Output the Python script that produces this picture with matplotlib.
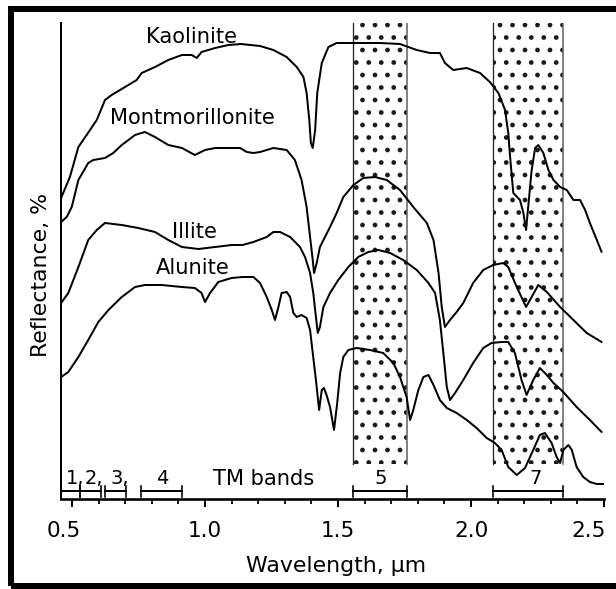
import matplotlib
matplotlib.use("Agg")
import matplotlib.pyplot as plt
import matplotlib.transforms as mtransforms
from matplotlib.patches import Rectangle
import numpy as np

DPI = 150
PX = 72.0 / DPI  # points per pixel

# ---------------- data (relative reflectance, arbitrary units) ----------------
kaol_wl = [0.459, 0.492, 0.524, 0.555, 0.593, 0.624, 0.649, 0.693, 0.743, 0.762, 0.812, 0.862,
           0.913, 0.950, 0.969, 0.987, 1.038, 1.088, 1.135, 1.207, 1.257, 1.307, 1.345, 1.370,
           1.382, 1.392, 1.398, 1.405, 1.414, 1.422, 1.439, 1.464, 1.495, 1.570, 1.658, 1.733,
           1.796, 1.846, 1.883, 1.902, 1.933, 1.984, 2.034, 2.071, 2.103, 2.128, 2.140, 2.149,
           2.159, 2.184, 2.197, 2.207, 2.215, 2.228, 2.241, 2.253, 2.272, 2.291, 2.310, 2.335,
           2.360, 2.385, 2.410, 2.429, 2.447, 2.473, 2.491]
kaol_r = [301, 322, 352, 364, 379, 399, 404, 411, 419, 426, 432, 439,
          444, 444, 441, 447, 451, 454, 455, 453, 449, 442, 432, 422,
          406, 379, 356, 351, 369, 406, 436, 452, 456, 456, 456, 455,
          449, 446, 446, 436, 429, 431, 426, 417, 406, 389, 366, 336,
          306, 299, 286, 269, 292, 329, 351, 354, 346, 329, 319, 312,
          309, 299, 299, 289, 276, 259, 247]

mont_wl = [0.459, 0.480, 0.499, 0.524, 0.561, 0.580, 0.624, 0.655, 0.687, 0.737, 0.774, 0.812,
           0.862, 0.913, 0.962, 1.000, 1.038, 1.088, 1.132, 1.157, 1.182, 1.207, 1.257, 1.307,
           1.338, 1.363, 1.382, 1.395, 1.405, 1.410, 1.420, 1.432, 1.451, 1.470, 1.495, 1.520,
           1.558, 1.595, 1.639, 1.683, 1.733, 1.783, 1.815, 1.834, 1.859, 1.878, 1.890, 1.902,
           1.921, 1.946, 1.971, 2.008, 2.046, 2.083, 2.121, 2.140, 2.172, 2.207, 2.228, 2.253,
           2.285, 2.335, 2.385, 2.435, 2.491]
mont_r = [277, 282, 292, 319, 336, 339, 341, 346, 354, 364, 367, 362,
          354, 351, 344, 349, 351, 351, 351, 347, 346, 347, 351, 349,
          339, 319, 292, 262, 239, 226, 236, 252, 262, 272, 286, 302,
          314, 321, 322, 319, 309, 292, 282, 276, 259, 226, 192, 172,
          179, 187, 196, 216, 229, 234, 236, 232, 212, 192, 202, 214,
          207, 192, 179, 166, 157]

illi_wl = [0.459, 0.486, 0.524, 0.561, 0.593, 0.624, 0.687, 0.749, 0.812, 0.862, 0.913, 0.975,
           1.038, 1.100, 1.141, 1.182, 1.232, 1.257, 1.282, 1.320, 1.357, 1.376, 1.395, 1.407,
           1.417, 1.424, 1.432, 1.445, 1.470, 1.501, 1.539, 1.576, 1.614, 1.652, 1.696, 1.745,
           1.796, 1.840, 1.865, 1.883, 1.896, 1.909, 1.921, 1.940, 1.971, 2.008, 2.046, 2.077,
           2.115, 2.140, 2.165, 2.190, 2.209, 2.234, 2.259, 2.285, 2.310, 2.347, 2.397, 2.447,
           2.491]
illi_r = [196, 206, 232, 259, 269, 276, 274, 271, 267, 259, 252, 250,
          252, 254, 254, 257, 262, 267, 267, 262, 252, 242, 226, 206,
          182, 166, 172, 192, 206, 219, 232, 242, 247, 249, 246, 239,
          229, 216, 206, 179, 146, 112, 99, 106, 119, 136, 151, 156,
          157, 157, 146, 119, 104, 119, 131, 124, 116, 107, 92, 79,
          67]

alun_wl = [0.459, 0.486, 0.524, 0.561, 0.599, 0.637, 0.687, 0.737, 0.774, 0.837, 0.913, 0.962,
           0.987, 1.000, 1.019, 1.050, 1.100, 1.141, 1.182, 1.207, 1.232, 1.251, 1.263, 1.276,
           1.288, 1.307, 1.320, 1.332, 1.345, 1.363, 1.382, 1.395, 1.405, 1.417, 1.429, 1.439,
           1.447, 1.457, 1.470, 1.485, 1.497, 1.508, 1.520, 1.539, 1.570, 1.620, 1.670, 1.708,
           1.733, 1.758, 1.771, 1.783, 1.802, 1.821, 1.840, 1.859, 1.883, 1.909, 1.946, 1.984,
           2.021, 2.059, 2.090, 2.115, 2.140, 2.172, 2.203, 2.234, 2.259, 2.278, 2.303, 2.322,
           2.335, 2.347, 2.366, 2.379, 2.397, 2.422, 2.447, 2.473, 2.498]
alun_r = [122, 127, 142, 159, 177, 189, 202, 212, 214, 214, 212, 211,
          206, 197, 206, 217, 221, 222, 222, 216, 202, 189, 179, 192,
          206, 207, 202, 186, 182, 184, 181, 169, 146, 119, 89, 109,
          111, 104, 92, 69, 96, 126, 142, 149, 151, 149, 146, 136,
          122, 102, 79, 89, 109, 122, 124, 114, 99, 91, 86, 79,
          71, 61, 56, 49, 32, 24, 31, 49, 64, 66, 56, 42,
          36, 49, 54, 49, 32, 22, 17, 15, 15]

mineral_names = ["Kaolinite", "Montmorillonite", "Illite", "Alunite"]

# Landsat TM bands (µm)
tm_band_names = ["1,", "2,", "3,", "4", "5", "7"]
tm_band_lo = [0.459, 0.530, 0.625, 0.760, 1.556, 2.083]
tm_band_hi = [0.530, 0.608, 0.703, 0.912, 1.759, 2.346]
shaded_bands = [4, 5]   # indices of bands 5 and 7 (stippled)

xticks_major = [0.5, 1.0, 1.5, 2.0, 2.5]
xtick_labels = ["0.5", "1.0", "1.5", "2.0", "2.5"]


def fs(px):
    """font size in points for an em size in pixels"""
    return px * PX


# ---------------- figure ----------------
W, H = 616, 589
fig = plt.figure(figsize=(W / DPI, H / DPI), dpi=DPI)
plt.rcParams['font.family'] = ['DejaVu Sans']
plt.rcParams['hatch.linewidth'] = 2.2 * PX

ax_l, ax_r, ax_b, ax_t = 61, 604, 499, 23
ax = fig.add_axes([ax_l / W, 1 - ax_b / H, (ax_r - ax_l) / W, (ax_b - ax_t) / H])
ax.set_xlim(0.4586, 2.5)
ax.set_ylim(0, 476)

for s in ["top", "right"]:
    ax.spines[s].set_visible(False)
ax.spines["left"].set_linewidth(2.0 * PX)
ax.spines["bottom"].set_linewidth(2.6 * PX)
ax.set_yticks([])

ax.set_xticks(xticks_major)
ax.set_xticklabels(xtick_labels, fontsize=fs(21.5))
ax.set_xticks(np.arange(0.6, 2.5, 0.1), minor=True)
ax.tick_params(axis="x", which="major", direction="out", length=8 * PX, width=2 * PX, pad=14 * PX)
ax.tick_params(axis="x", which="minor", direction="out", length=4.5 * PX, width=1.8 * PX)
shifts = {0: -8, 4: -15}
for i, lab in enumerate(ax.get_xticklabels()):
    if i in shifts:
        lab.set_transform(lab.get_transform() +
                          mtransforms.ScaledTranslation(shifts[i] / DPI, 0, fig.dpi_scale_trans))

# stippled band boxes (TM 5 and 7)
box_bottom, box_top = 35, 476
for i in shaded_bands:
    lo, hi = tm_band_lo[i], tm_band_hi[i]
    ax.add_patch(Rectangle((lo, box_bottom), hi - lo, box_top - box_bottom,
                           facecolor="white", edgecolor="0.1", hatch="..",
                           linewidth=0, zorder=1))
    ax.plot([lo, lo], [box_bottom, box_top], color="0.15", lw=1.3 * PX, zorder=1.5)
    ax.plot([hi, hi], [box_bottom, box_top], color="0.4", lw=1.6 * PX, zorder=1.5)

# spectra
curve_kw = dict(color="black", lw=2.0 * PX, solid_joinstyle="round", solid_capstyle="round", zorder=3)
for wl, r in [(kaol_wl, kaol_r), (mont_wl, mont_r), (illi_wl, illi_r), (alun_wl, alun_r)]:
    ax.plot(wl, r, **curve_kw)

# curve labels
label_pos = [(0.951, 462), (0.951, 381), (0.959, 267), (0.955, 231)]
for name, (x, y) in zip(mineral_names, label_pos):
    ax.text(x, y, name, ha="center", va="center", fontsize=fs(21), zorder=4)

# TM band brackets
br_y = 8
cap = 5.5
for lo, hi in zip(tm_band_lo, tm_band_hi):
    ax.plot([lo, hi], [br_y, br_y], color="black", lw=2.0 * PX, zorder=3, clip_on=False)
    for xx in (lo, hi):
        ax.plot([xx, xx], [br_y - cap, br_y + cap], color="black", lw=1.6 * PX, zorder=3, clip_on=False)

band_lbl_y = 20
band_fs = fs(19.5)
ax.text(0.476, band_lbl_y, tm_band_names[0], ha="left", va="center", fontsize=band_fs)
ax.text(0.546, band_lbl_y, tm_band_names[1], ha="left", va="center", fontsize=band_fs)
ax.text(0.643, band_lbl_y, tm_band_names[2], ha="left", va="center", fontsize=band_fs)
ax.text(0.838, band_lbl_y, tm_band_names[3], ha="center", va="center", fontsize=band_fs)
ax.text(1.220, band_lbl_y, "TM bands", ha="center", va="center", fontsize=fs(21))
ax.text(1.662, band_lbl_y, tm_band_names[4], ha="center", va="center", fontsize=band_fs)
ax.text(2.244, band_lbl_y, tm_band_names[5], ha="center", va="center", fontsize=band_fs)

# axis titles
fig.text(336 / W, 1 - 572 / H, "Wavelength, µm", ha="center", va="baseline", fontsize=fs(22))
fig.text(41 / W, 1 - 275 / H, "Reflectance, %", ha="center", va="center", rotation=90, fontsize=fs(22))

# outer frame (right side lies outside the picture)
fig.patches.append(Rectangle((11 / W, 1 - 586 / H), (660 - 11) / W, (586 - 9) / H,
                             transform=fig.transFigure, fill=False, edgecolor="black",
                             linewidth=6 * PX, zorder=10))

fig.savefig("out.png", dpi=DPI)
